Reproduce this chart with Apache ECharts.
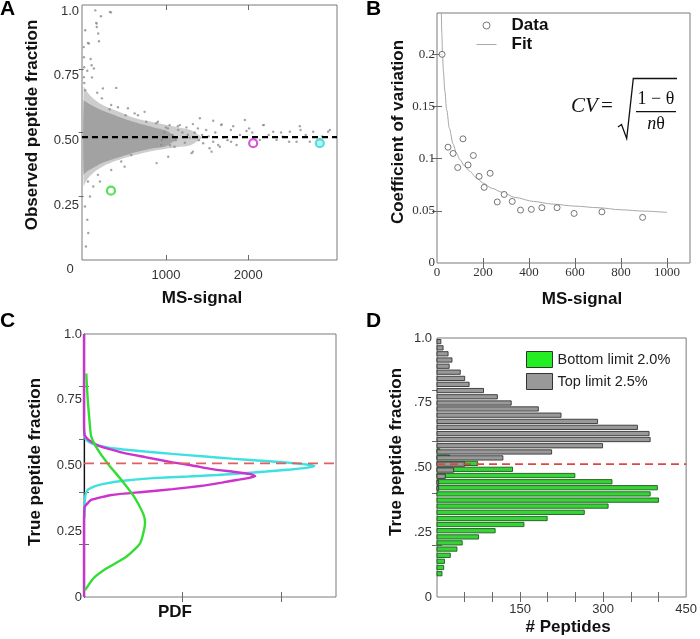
<!DOCTYPE html>
<html><head><meta charset="utf-8">
<script src="https://cdn.jsdelivr.net/npm/echarts@6/dist/echarts.min.js"></script>
<style>html,body{margin:0;padding:0;background:#fff}#c{width:700px;height:639px}</style>
</head><body><div id="c"></div>
<script>
// ---------------- Panel A : observed fraction vs MS-signal ----------------
const aXRange = [-20, 3080];
const aYRange = [0, 1];
const aYLabelRange = [0.04, 1.0235];
const aXTicks = [1000, 2000];
const aYTickValues = [0.25, 0.5, 0.75, 1.0];
const aYTickLabels = ['0.25', '0.50', '0.75', '1.0'];
const aYRightTicks = [0.25, 0.5, 0.75];
const aRefLine = 0.482;
// envelope of the dense peptide cloud
const aOuterX   = [0, 30, 80, 150, 250, 400, 550, 700, 850, 1000, 1150, 1300, 1450];
const aOuterTop = [0.68, 0.665, 0.645, 0.625, 0.605, 0.585, 0.565, 0.55, 0.54, 0.53, 0.52, 0.51, 0.48];
const aOuterBot = [0.29, 0.31, 0.33, 0.35, 0.37, 0.39, 0.405, 0.418, 0.428, 0.436, 0.443, 0.45, 0.48];
const aCoreX   = [0, 30, 80, 150, 250, 400, 550, 700, 850, 1000, 1150];
const aCoreTop = [0.625, 0.62, 0.61, 0.598, 0.583, 0.565, 0.548, 0.533, 0.52, 0.508, 0.477];
const aCoreBot = [0.335, 0.345, 0.355, 0.368, 0.383, 0.40, 0.415, 0.428, 0.438, 0.446, 0.477];
// individual sparse peptides
const aPoints = [[141,0.979],[210,0.956],[332,0.971],[153,0.930],[160,0.914],[19,0.901],[186,0.858],[52,0.851],[85,0.788],[125,0.751],[44,0.742],[101,0.716],[234,0.673],[396,0.675],[19,0.666],[165,0.656],[222,0.634],[316,0.591],[417,0.599],[620,0.575],[510,0.568],[761,0.542],[882,0.536],[1045,0.529],[1146,0.525],[1328,0.533],
[2,0.835],[3,0.795],[6,0.756],[2,0.717],[8,0.694],[320,0.973],[158,0.927],[177,0.888],[64,0.849],[97,0.764],
[1170,0.529],[1413,0.556],[1575,0.546],[1818,0.525],[1960,0.549],[2182,0.529],[2304,0.503],[2507,0.503],[2628,0.525],[2790,0.503],[2972,0.503],[1453,0.458],[1656,0.444],[1312,0.419],[2588,0.464],[2871,0.471],[1028,0.405],[887,0.380],
[1677,0.532],[1790,0.510],[1980,0.506],[2012,0.516],[2191,0.529],[2418,0.484],[2637,0.510],[2498,0.464],[1575,0.464],[1635,0.451],[1859,0.451],[1555,0.425],[2142,0.471],[2993,0.510],[2345,0.471],[2750,0.464],
[903,0.542],[1024,0.516],[1267,0.490],[1389,0.516],[1490,0.510],[1672,0.529],[1793,0.464],[943,0.451],[1105,0.444],[1328,0.425],[1531,0.438],[660,0.568],[741,0.581],[538,0.595],[335,0.608],[457,0.386],[578,0.412],[498,0.366],[335,0.353],[174,0.334],[52,0.308],
[16,0.21],[44,0.158],[77,0.249],[117,0.288],[198,0.308],[56,0.106],[28,0.053],
[1080,0.49],[1120,0.47],[1200,0.50],[1230,0.46],[1290,0.48],[1350,0.5],[1400,0.47],[1440,0.49],[1520,0.485],[1600,0.5],[1700,0.48],[1750,0.47],[1900,0.49],[2050,0.5],[2250,0.49],[2400,0.5],[2700,0.49],[2900,0.485],[1000,0.52],[1050,0.45],[1150,0.51],[1250,0.52],[950,0.47],[980,0.5]];
const aHighlightNames  = ['green', 'magenta', 'cyan'];
const aHighlightX      = [332, 2061, 2871];
const aHighlightY      = [0.272, 0.458, 0.458];
const aHighlightColors = ['#2fd82f', '#cc2fcc', '#2fd8d8'];
const aHighlightFill   = ['#ffffff', '#ffffff', '#a8f0f0'];

// ---------------- Panel B : coefficient of variation ----------------
const bXRange = [0, 1100];
const bYRange = [0, 0.2396];
const bXTicks = [200, 400, 600, 800, 1000];
const bXLabels = [0, 200, 400, 600, 800, 1000];
const bYTicks = [0.05, 0.1, 0.15, 0.2];
const bYLabels = [0, 0.05, 0.1, 0.15, 0.2];
const bDataX = [22, 48, 70, 90, 113, 135, 158, 183, 205, 231, 262, 292, 327, 363, 410, 456, 522, 596, 717, 894];
const bDataY = [0.200, 0.111, 0.105, 0.0915, 0.119, 0.094, 0.103, 0.083, 0.0725, 0.086, 0.0585, 0.0657, 0.059, 0.0507, 0.0514, 0.053, 0.053, 0.0475, 0.049, 0.0437];
const bFitX = [19, 21, 24, 28, 34, 42, 54, 70, 85, 100, 120, 142, 170, 200, 240, 280, 340, 420, 500, 600, 700, 800, 900, 1000];
const bFitY = [0.24, 0.22, 0.2, 0.183, 0.165, 0.147, 0.129, 0.114, 0.105, 0.099, 0.093, 0.088, 0.082, 0.0766, 0.0715, 0.068, 0.0628, 0.059, 0.0565, 0.0545, 0.053, 0.051, 0.0497, 0.0485];

// ---------------- Panel C : PDF of true fraction ----------------
const cXRange = [0, 25.6];
const cYRange = [0, 1];
const cXTicks = [10, 20];
const cYTicks = [0.2, 0.4, 0.6, 0.8];
const cYLabelValues = [0, 0.25, 0.5, 0.75, 1.0];
const cYLabels = ['0', '0.25', '0.50', '0.75', '1.0'];
const cRefLine = 0.508;
const cCyanPdf = [0.05, 0.08, 0.15, 0.4, 1.0, 2.0, 4.0, 7.0, 10.6, 13.5, 16.0, 18.5, 21.0, 22.6, 23.4, 22.8, 21.0, 18.0, 15.0, 12.0, 9.0, 6.2, 4.0, 2.5, 1.4, 0.7, 0.3, 0.1, 0.03];
const cCyanY   = [0.30, 0.35, 0.39, 0.408, 0.42, 0.43, 0.442, 0.452, 0.458, 0.464, 0.47, 0.477, 0.485, 0.491, 0.498, 0.503, 0.51, 0.518, 0.526, 0.535, 0.544, 0.553, 0.561, 0.568, 0.576, 0.585, 0.595, 0.61, 0.63];
const cMagPdf = [0, 0, 0.02, 0.07, 0.74, 2.8, 6.2, 9.0, 11.8, 14.0, 15.5, 16.8, 17.4, 16.8, 15.2, 13.0, 11.0, 9.0, 6.2, 4.0, 2.8, 1.5, 0.74, 0.3, 0.07, 0.02, 0, 0];
const cMagY   = [0, 0.29, 0.32, 0.343, 0.369, 0.388, 0.40, 0.41, 0.422, 0.435, 0.445, 0.453, 0.46, 0.468, 0.476, 0.486, 0.50, 0.512, 0.532, 0.548, 0.56, 0.575, 0.59, 0.603, 0.615, 0.63, 0.66, 1.0];
const cGreenPdf = [0.23, 0.3, 0.4, 0.58, 0.74, 1.4, 2.4, 3.8, 5.1, 6.0, 6.2, 6.1, 5.7, 4.3, 2.3, 0.95, 0.34, 0.1];
const cGreenY   = [0.85, 0.80, 0.74, 0.66, 0.61, 0.56, 0.508, 0.445, 0.381, 0.318, 0.285, 0.255, 0.204, 0.153, 0.109, 0.071, 0.039, 0.025];

// ---------------- Panel D : histogram of true fraction ----------------
const dXRange = [0, 450];
const dYRange = [0, 1];
const dXTicks = [50, 100, 150, 200, 250, 300, 350, 400];
const dXLabels = [150, 300, 450];
const dYTicks = [0.2, 0.4, 0.6, 0.8];
const dYLabelValues = [0, 0.25, 0.5, 0.75, 1.0];
const dYLabels = ['0', '.25', '.50', '.75', '1.0'];
const dRefLine = 0.513;
const dGreenY = [0.090, 0.114, 0.138, 0.161, 0.185, 0.209, 0.232, 0.256, 0.280, 0.303, 0.327, 0.351, 0.374, 0.398, 0.422, 0.445, 0.469, 0.493, 0.516, 0.540, 0.564];
const dGreenN = [9, 12, 13.5, 24, 36, 45.5, 75, 105, 157, 199, 266, 309, 400, 385, 398, 316, 249, 136.5, 73.5, 23, 5];
const dGrayY = [0.986, 0.962, 0.939, 0.915, 0.891, 0.868, 0.844, 0.821, 0.797, 0.773, 0.749, 0.726, 0.702, 0.678, 0.655, 0.631, 0.608, 0.584, 0.560, 0.537, 0.513, 0.490, 0.466, 0.442, 0.419];
const dGrayN = [7, 11, 20, 27, 22, 42, 50, 58, 84, 109, 134, 183, 224, 290, 362, 383, 385, 299, 207, 119, 50, 30, 15, 3, 3];
const dBarThickness = 0.0165;
const dSeriesNames = ['Bottom limit 2.0%', 'Top limit 2.5%'];

// ------------------------------------------------------------------
const SANS = 'Liberation Sans, Arial, sans-serif';
const SERIF = 'Liberation Serif, Times New Roman, serif';
const zip = (xs, ys) => xs.map((x, i) => [x, ys[i]]);
const pick = (vals, labels) => (v) => { const i = vals.findIndex(t => Math.abs(t - v) < 1e-9); return i < 0 ? '' : labels[i]; };
const plain = (v) => String(v);

function ax(o) {
  return {
    type: 'value', gridIndex: o.grid, min: o.min, max: o.max, position: o.pos,
    axisLine: o.line ? { show: true, lineStyle: o.line } : { show: false },
    splitLine: { show: false },
    axisTick: o.ticks ? { show: true, inside: true, length: 5, customValues: o.ticks, lineStyle: { color: '#6a6a6a' } } : { show: false },
    axisLabel: o.labels ? { show: true, customValues: o.labels, formatter: o.fmt || plain, color: '#333', fontSize: 13, fontFamily: o.font || SANS, margin: o.margin == null ? 5 : o.margin } : { show: false },
    name: o.name, nameLocation: 'middle', nameGap: o.nameGap,
    nameTextStyle: { fontFamily: SANS, fontWeight: 'bold', fontSize: 17, color: '#111', padding: o.namePad || 0 }
  };
}

const gridStyle = { show: true, borderColor: '#7a7a7a', borderWidth: 1, backgroundColor: 'transparent' };

function polygonSeries(xs, tops, bots, color, z) {
  return {
    type: 'custom', coordinateSystem: 'cartesian2d', xAxisIndex: 0, yAxisIndex: 1, z: z, silent: true,
    data: [[xs[0], tops[0]]],
    renderItem: function (params, api) {
      const pts = [];
      for (let i = 0; i < xs.length; i++) pts.push(api.coord([xs[i], tops[i]]));
      for (let i = xs.length - 1; i >= 0; i--) pts.push(api.coord([xs[i], bots[i]]));
      return { type: 'polygon', shape: { points: pts, smooth: 0.25 }, style: { fill: color } };
    }
  };
}

function barSeries(name, ys, ns, fill, stroke, z) {
  return {
    name: name, type: 'custom', coordinateSystem: 'cartesian2d', xAxisIndex: 6, yAxisIndex: 6, z: z,
    itemStyle: { color: fill, borderColor: stroke },
    encode: { x: 0, y: 1 },
    data: zip(ns, ys),
    renderItem: function (params, api) {
      const v = api.value(0), y = api.value(1);
      const p0 = api.coord([0, y]);
      const p1 = api.coord([v, y]);
      const h = api.size([0, dBarThickness])[1];
      return { type: 'rect', shape: { x: p0[0], y: p0[1] - h / 2, width: p1[0] - p0[0], height: h },
               style: { fill: fill, stroke: stroke, lineWidth: 0.9 } };
    }
  };
}

const option = {
  animation: false,
  backgroundColor: '#fff',
  grid: [
    Object.assign({ left: 82, top: 5, width: 255, height: 255 }, gridStyle),
    Object.assign({ left: 437, top: 13, width: 253, height: 250 }, gridStyle),
    Object.assign({ left: 84, top: 334, width: 252, height: 263 }, gridStyle),
    Object.assign({ left: 437, top: 338, width: 257, height: 259 }, gridStyle)
  ],
  xAxis: [
    ax({ grid: 0, min: aXRange[0], max: aXRange[1], pos: 'bottom', ticks: aXTicks, labels: aXTicks, margin: 9, name: 'MS-signal', nameGap: 30, namePad: [0, 15, 0, 0] }),
    ax({ grid: 0, min: aXRange[0], max: aXRange[1], pos: 'top', ticks: aXTicks }),
    ax({ grid: 1, min: bXRange[0], max: bXRange[1], pos: 'bottom', ticks: bXTicks, labels: bXLabels, font: SERIF, margin: 3, name: 'MS-signal', nameGap: 28, namePad: [0, 0, 0, 37] }),
    ax({ grid: 1, min: bXRange[0], max: bXRange[1], pos: 'top', ticks: bXTicks }),
    ax({ grid: 2, min: cXRange[0], max: cXRange[1], pos: 'bottom', ticks: cXTicks, name: 'PDF', nameGap: 7, namePad: [0, 70, 0, 0] }),
    ax({ grid: 2, min: cXRange[0], max: cXRange[1], pos: 'top', ticks: cXTicks }),
    ax({ grid: 3, min: dXRange[0], max: dXRange[1], pos: 'bottom', ticks: dXTicks, labels: dXLabels, margin: 6, name: '# Peptides', nameGap: 22, namePad: [0, 0, 0, 13] }),
    ax({ grid: 3, min: dXRange[0], max: dXRange[1], pos: 'top', ticks: dXTicks })
  ],
  yAxis: [
    ax({ grid: 0, min: aYLabelRange[0], max: aYLabelRange[1], pos: 'left', labels: aYTickValues, fmt: pick(aYTickValues, aYTickLabels), margin: 3, name: 'Observed peptide fraction', nameGap: 41, namePad: [0, 0, 0, 15] }),
    ax({ grid: 0, min: aYRange[0], max: aYRange[1], pos: 'right', ticks: aYRightTicks }),
    ax({ grid: 1, min: bYRange[0], max: bYRange[1], pos: 'left', ticks: bYTicks, labels: bYLabels, font: SERIF, margin: 2, name: 'Coefficient of variation', nameGap: 30, namePad: [0, 0, 0, 12] }),
    ax({ grid: 1, min: bYRange[0], max: bYRange[1], pos: 'right', ticks: bYTicks }),
    ax({ grid: 2, min: cYRange[0], max: cYRange[1], pos: 'left', ticks: cYTicks, labels: cYLabelValues, fmt: pick(cYLabelValues, cYLabels), margin: 2, line: { color: '#111', width: 1.2 }, name: 'True peptide fraction', nameGap: 40, namePad: [0, 0, 0, 7] }),
    ax({ grid: 2, min: cYRange[0], max: cYRange[1], pos: 'right', ticks: cYTicks }),
    ax({ grid: 3, min: dYRange[0], max: dYRange[1], pos: 'left', ticks: dYTicks, labels: dYLabelValues, fmt: pick(dYLabelValues, dYLabels), margin: 5, name: 'True peptide fraction', nameGap: 32, namePad: [0, 0, 0, 31] }),
    ax({ grid: 3, min: dYRange[0], max: dYRange[1], pos: 'right', ticks: dYTicks })
  ],
  legend: [
    { left: 476, top: 17, padding: 0, orient: 'vertical', itemWidth: 20, itemHeight: 7, itemGap: 2,
      textStyle: { fontFamily: SANS, fontWeight: 'bold', fontSize: 17, color: '#111', padding: [0, 0, 0, 10] },
      data: [{ name: 'Data', icon: 'circle', itemStyle: { color: '#fff', borderColor: '#555', borderWidth: 1 } },
             { name: 'Fit', itemStyle: { opacity: 0 }, lineStyle: { color: '#a8a8a8', width: 1 } }] },
    { left: 526, top: 351, padding: 0, orient: 'vertical', itemWidth: 26, itemHeight: 16, itemGap: 5,
      textStyle: { fontFamily: SANS, fontSize: 14.5, color: '#222' },
      data: [{ name: dSeriesNames[0], icon: 'rect', itemStyle: { color: '#22ee22', borderColor: '#333', borderWidth: 1 } },
             { name: dSeriesNames[1], icon: 'rect', itemStyle: { color: '#999999', borderColor: '#333', borderWidth: 1 } }] }
  ],
  series: [
    // ---- A
    polygonSeries(aOuterX, aOuterTop, aOuterBot, '#cdcdcd', 1),
    polygonSeries(aCoreX, aCoreTop, aCoreBot, '#a2a2a2', 2),
    { type: 'scatter', xAxisIndex: 0, yAxisIndex: 1, z: 3, symbolSize: 2.4, itemStyle: { color: '#8c8c8c' }, data: aPoints, silent: true },
    { type: 'line', xAxisIndex: 0, yAxisIndex: 1, z: 4, symbol: 'none', silent: true,
      lineStyle: { color: '#000', width: 2.4, type: [6, 4] }, data: [[aXRange[0], aRefLine], [aXRange[1], aRefLine]] },
    { type: 'scatter', xAxisIndex: 0, yAxisIndex: 1, z: 5, symbol: 'circle', symbolSize: 8, silent: true,
      data: aHighlightNames.map((n, i) => ({ name: n, value: [aHighlightX[i], aHighlightY[i]],
        itemStyle: { color: aHighlightFill[i], borderColor: aHighlightColors[i], borderWidth: 2.2 } })) },
    // ---- B
    { name: 'Fit', type: 'line', xAxisIndex: 2, yAxisIndex: 2, symbol: 'none', smooth: 0.3, smoothMonotone: 'x',
      lineStyle: { color: '#a8a8a8', width: 1 }, itemStyle: { color: '#a8a8a8' }, data: zip(bFitX, bFitY), silent: true, z: 2 },
    { name: 'Data', type: 'scatter', xAxisIndex: 2, yAxisIndex: 2, symbol: 'circle', symbolSize: 6,
      itemStyle: { color: '#fff', borderColor: '#555', borderWidth: 1 }, data: zip(bDataX, bDataY), silent: true, z: 3 },
    // ---- C
    { type: 'line', xAxisIndex: 4, yAxisIndex: 4, symbol: 'none', clip: false, z: 3, silent: true, smooth: 0.15,
      lineStyle: { color: '#3fe0e0', width: 2.4 }, data: zip(cCyanPdf, cCyanY) },
    { type: 'line', xAxisIndex: 4, yAxisIndex: 4, symbol: 'none', clip: false, z: 4, silent: true, smooth: 0.15,
      lineStyle: { color: '#cc33cc', width: 2.4 }, data: zip(cMagPdf, cMagY) },
    { type: 'line', xAxisIndex: 4, yAxisIndex: 4, symbol: 'none', clip: false, z: 5, silent: true, smooth: 0.2,
      lineStyle: { color: '#33dd33', width: 2.4 }, data: zip(cGreenPdf, cGreenY) },
    { type: 'line', xAxisIndex: 4, yAxisIndex: 4, symbol: 'none', z: 6, silent: true,
      lineStyle: { color: '#e06060', width: 1.6, type: [10, 6] }, data: [[cXRange[0], cRefLine], [cXRange[1], cRefLine]] },
    // ---- D
    barSeries(dSeriesNames[0], dGreenY, dGreenN, '#36d436', '#1d5a1d', 2),
    barSeries(dSeriesNames[1], dGrayY, dGrayN, '#999999', '#333333', 3),
    { type: 'line', xAxisIndex: 6, yAxisIndex: 6, symbol: 'none', z: 6, silent: true,
      lineStyle: { color: '#e04545', width: 1.8, type: [8, 5] }, data: [[dXRange[0], dRefLine], [dXRange[1], dRefLine]] }
  ],
  graphic: [
    { type: 'text', x: 0, y: -1, style: { text: 'A', font: 'bold 21px ' + SANS, fill: '#000', verticalAlign: 'top' } },
    { type: 'text', x: 366, y: -1, style: { text: 'B', font: 'bold 21px ' + SANS, fill: '#000', verticalAlign: 'top' } },
    { type: 'text', x: 0, y: 311, style: { text: 'C', font: 'bold 21px ' + SANS, fill: '#000', verticalAlign: 'top' } },
    { type: 'text', x: 366, y: 311, style: { text: 'D', font: 'bold 21px ' + SANS, fill: '#000', verticalAlign: 'top' } },
    { type: 'text', x: 70, y: 269, style: { text: '0', font: '13px ' + SANS, fill: '#333', align: 'center', verticalAlign: 'middle' } },
    // equation CV = sqrt((1-θ)/(nθ))
    { type: 'text', x: 571, y: 106, style: { text: 'CV', font: 'italic 21px ' + SERIF, fill: '#111', verticalAlign: 'middle' } },
    { type: 'text', x: 601, y: 106, style: { text: '=', font: '21px ' + SERIF, fill: '#111', verticalAlign: 'middle' } },
    { type: 'polyline', shape: { points: [[618, 127], [621.5, 124.5], [626.7, 138.5], [633.3, 78.5], [677, 78.5]] }, style: { stroke: '#111', lineWidth: 1.3, fill: null } },
    { type: 'text', x: 656, y: 99, style: { text: '1 − θ', font: '18px ' + SERIF, fill: '#111', align: 'center', verticalAlign: 'middle' } },
    { type: 'line', shape: { x1: 636, y1: 111.7, x2: 676, y2: 111.7 }, style: { stroke: '#111', lineWidth: 1.2 } },
    { type: 'text', x: 656, y: 124, style: { text: '{n|n}{t|θ}', align: 'center', verticalAlign: 'middle', fill: '#111',
      rich: { n: { fontFamily: SERIF, fontStyle: 'italic', fontSize: 18, fill: '#111' }, t: { fontFamily: SERIF, fontSize: 18, fill: '#111' } } } }
  ]
};

const chart = echarts.init(document.getElementById('c'), null, { renderer: 'canvas' });
chart.setOption(option);
</script>
</body></html>
